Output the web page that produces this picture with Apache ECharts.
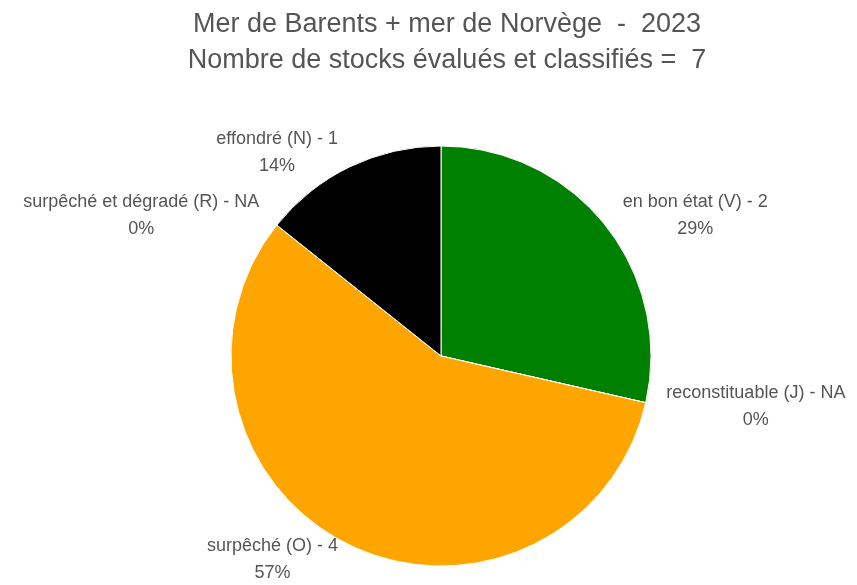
<!DOCTYPE html>
<html>
<head>
<meta charset="utf-8">
<script src="https://cdn.jsdelivr.net/npm/echarts@6/dist/echarts.min.js"></script>
<style>
  html, body { margin: 0; padding: 0; background: #fff; }
  #main { width: 857px; height: 585px; }
</style>
</head>
<body>
<div id="main"></div>
<script>
// données
var categories = ['en bon état (V)', 'reconstituable (J)', 'surpêché (O)', 'surpêché et dégradé (R)', 'effondré (N)'];
var counts = [2, 0, 4, 0, 1];
var countLabels = ['2', 'NA', '4', 'NA', '1'];
var colors = ['#008000', '#ffffff', '#ffa500', '#ffffff', '#000000'];
var titleLines = ['Mer de Barents + mer de Norvège  -  2023', 'Nombre de stocks évalués et classifiés =  7'];

var chart = echarts.init(document.getElementById('main'));

var pieData = categories.map(function (name, i) {
    return { name: name, value: counts[i], itemStyle: { color: colors[i] } };
});

var option = {
    animation: false,
    title: {
        text: titleLines.join('\n'),
        left: 442,
        top: 2,
        textAlign: 'center',
        textStyle: {
            fontFamily: 'Liberation Sans',
            fontWeight: 'normal',
            fontSize: 27,
            lineHeight: 36,
            color: '#555'
        }
    },
    series: [{
        type: 'pie',
        center: [441, 356],
        radius: 210,
        startAngle: 90,
        clockwise: true,
        avoidLabelOverlap: false,
        data: pieData,
        itemStyle: { borderColor: '#fff', borderWidth: 1 },
        label: {
            show: true,
            position: 'outside',
            distance: 0,
            bleedMargin: 0,
            overflow: 'none',
            formatter: function (p) {
                return '{a|' + p.name + ' - ' + countLabels[p.dataIndex] + '}\n{a|' + Math.round(p.percent) + '%}';
            },
            rich: {
                a: {
                    fontFamily: 'Liberation Sans',
                    fontSize: 18,
                    lineHeight: 27,
                    color: '#555',
                    align: 'center'
                }
            }
        },
        labelLine: { show: false, length: 16, length2: 0 },
        emphasis: { disabled: true }
    }]
};

chart.setOption(option);
</script>
</body>
</html>
